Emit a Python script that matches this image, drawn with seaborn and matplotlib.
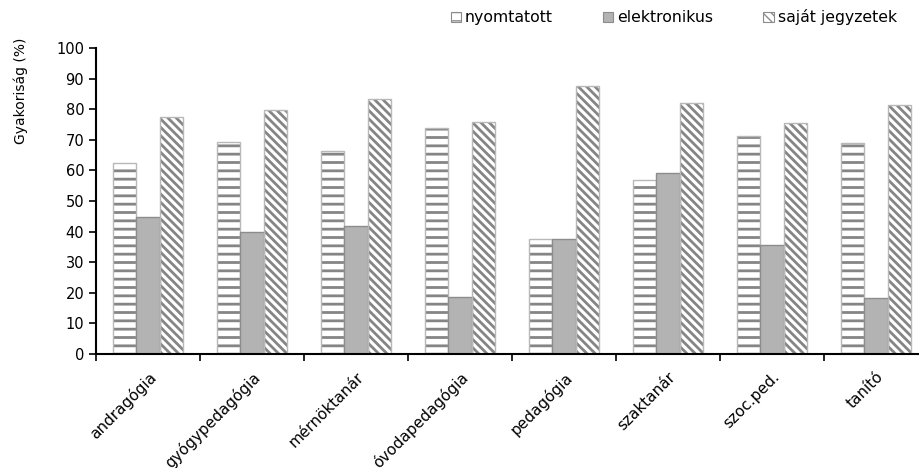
import numpy as np
import pandas as pd
import seaborn as sns
import matplotlib.pyplot as plt
from matplotlib.patches import Rectangle

# Data
szakok = ["andragógia", "gyógypedagógia", "mérnöktanár", "óvodapedagógia",
          "pedagógia", "szaktanár", "szoc.ped.", "tanító"]
nyomtatott = [62.5, 69.3, 66.5, 74.0, 37.5, 57.0, 71.3, 69.0]
elektronikus = [44.7, 40.0, 41.7, 18.5, 37.5, 59.3, 35.5, 18.4]
sajat_jegyzetek = [77.5, 79.8, 83.2, 75.8, 87.5, 82.0, 75.4, 81.5]
tipusok = ["nyomtatott", "elektronikus", "saját jegyzetek"]

df = pd.DataFrame({
    "szak": szakok * 3,
    "tipus": np.repeat(tipusok, len(szakok)),
    "ertek": nyomtatott + elektronikus + sajat_jegyzetek,
})

sns.set_style("ticks")
plt.rcParams["font.family"] = ["DejaVu Sans"]
plt.rcParams["hatch.linewidth"] = 2.0
plt.rcParams["text.color"] = "black"
plt.rcParams["axes.labelcolor"] = "black"
plt.rcParams["xtick.color"] = "black"
plt.rcParams["ytick.color"] = "black"

fig = plt.figure(figsize=(9.2, 4.68), dpi=100)
ax = fig.add_axes([96 / 920, 1 - 354 / 468, 832 / 920, 306 / 468])

sns.barplot(data=df, x="szak", y="ertek", hue="tipus", hue_order=tipusok,
            order=szakok, width=0.67, gap=0, ax=ax, legend=False)

# styles for each series (hatch colour = edgecolor, outline drawn separately)
stilusok = [
    dict(facecolor="white", hatch="--", hatchcolor="#858585", outline="#b8b8b8"),
    dict(facecolor="#b3b3b3", hatch=None, hatchcolor="#b3b3b3", outline="#8c8c8c"),
    dict(facecolor="white", hatch="\\\\\\\\", hatchcolor="#858585", outline="#b8b8b8"),
]
for cont, st in zip(ax.containers, stilusok):
    for p in cont.patches:
        p.set_facecolor(st["facecolor"])
        p.set_edgecolor(st["hatchcolor"])
        p.set_hatch(st["hatch"])
        p.set_linewidth(0)
        ax.add_patch(Rectangle(p.get_xy(), p.get_width(), p.get_height(),
                               fill=False, edgecolor=st["outline"],
                               linewidth=1.0, zorder=p.get_zorder() + 0.1))

ax.set_ylim(0, 100)
ax.set_yticks(range(0, 101, 10))
ax.set_xlim(-0.5, 7.5)
ax.set_xticks(np.arange(-0.5, 8, 1), minor=True)
ax.set_xticks(range(len(szakok)))
ax.set_xticklabels(szakok, rotation=45, ha="right", va="top",
                   rotation_mode="anchor", fontsize=11)
ax.tick_params(axis="x", which="major", length=0, pad=11)
ax.tick_params(axis="x", which="minor", length=5, width=1.2)
ax.tick_params(axis="y", length=5, width=1.2, labelsize=10.5)

for s in ["top", "right"]:
    ax.spines[s].set_visible(False)
for s in ["left", "bottom"]:
    ax.spines[s].set_linewidth(1.5)
    ax.spines[s].set_color("black")

ax.set_xlabel("")
ax.set_ylabel("Gyakoriság (%)", fontsize=10)
ax.yaxis.set_label_coords(-0.082, 0.86)

# legend proxies with outline, like the reference
jelek = [Rectangle((0, 0), 1, 1, facecolor=st["facecolor"], hatch=st["hatch"],
                   edgecolor="#8c8c8c", linewidth=0.8) for st in stilusok]
plt.rcParams["hatch.linewidth"] = 1.0
fig.legend(jelek, tipusok, loc="upper right",
           bbox_to_anchor=(0.99, 1.01), ncol=3, frameon=False, fontsize=11.3,
           handlelength=0.65, handleheight=0.65, handletextpad=0.25,
           columnspacing=3.2)

fig.savefig("out.png", dpi=100)
